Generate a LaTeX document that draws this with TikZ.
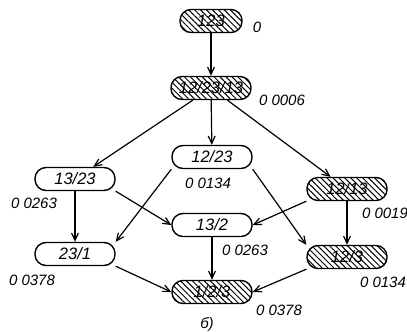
\documentclass[tikz,border=0pt]{standalone}
\usepackage{fontspec}
\setmainfont{Liberation Sans}
\usepackage{tikz}
\usetikzlibrary{positioning, arrows.meta, patterns.meta}

\begin{document}
\begin{tikzpicture}[
    x=1pt, y=-1pt,
    state/.style={rectangle, draw, line width=1.4pt, rounded corners=11pt, minimum height=23pt, minimum width=80pt, inner sep=1pt, font=\itshape\fontsize{16.5}{17}\selectfont},
    hatched/.style={state, pattern={Lines[angle=-45, distance=4.2pt, line width=1pt]}},
    val/.style={font=\itshape\fontsize{15}{16}\selectfont, inner sep=0pt},
    arrow/.style={-{Straight Barb[length=2.6mm, width=2.4mm]}, line width=1.2pt}
]
\useasboundingbox (0,0) rectangle (407,332);

\node[hatched, minimum width=62pt] (s123) at (211, 21) {123};
\node[hatched] (s1223) at (211, 88) {12/23/13};
\node[state] (s1323) at (75, 179) {13/23};
\node[state] (s12o23) at (212, 157) {12/23};
\node[hatched] (s1213) at (347, 189) {12/13};
\node[state] (s132) at (212, 225) {13/2};
\node[state] (s231) at (75, 254) {23/1};
\node[hatched] (s123b) at (347, 257) {12/3};
\node[hatched] (s1o2o3) at (212, 292) {1/2/3};

\node[val] (v123) at (257, 27) {0};
\node[val] (v1223) at (282, 100) {0 0006};
\node[val] (v1323) at (34, 203) {0 0263};
\node[val] (v12o23) at (208, 183) {0 0134};
\node[val] (v1213) at (385, 213) {0 0019};
\node[val] (v132) at (245, 250) {0 0263};
\node[val] (v231) at (32, 280) {0 0378};
\node[val] (v123b) at (383, 282) {0 0134};
\node[val] (v1o2o3) at (279, 310) {0 0378};
\node[val] (cap) at (207, 325) {б)};

\draw[arrow] (s123) -- (s1223);
\draw[arrow] (s1223) -- (s1323);
\draw[arrow] (s1223) -- (s12o23);
\draw[arrow] (s1223) -- (s1213);
\draw[arrow] (s1323) -- (s231);
\draw[arrow] (s1323.south east) -- (s132.west);
\draw[arrow] (s12o23.south west) -- (s231.north east);
\draw[arrow] (s12o23.south east) -- (s123b.north west);
\draw[arrow] (s1213.south west) -- (s132.east);
\draw[arrow] (s1213) -- (s123b);
\draw[arrow] (s231.south east) -- (s1o2o3.west);
\draw[arrow] (s132) -- (s1o2o3);
\draw[arrow] (s123b.south west) -- (s1o2o3.east);

\end{tikzpicture}
\end{document}
